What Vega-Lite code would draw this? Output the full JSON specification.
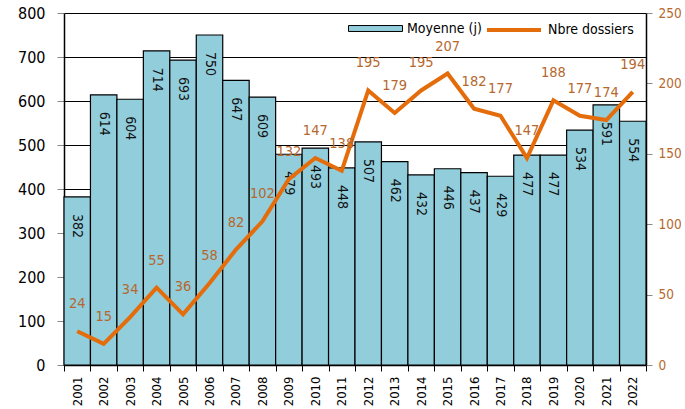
{
  "$schema": "https://vega.github.io/schema/vega-lite/v6.json",
  "width": 582,
  "height": 352,
  "autosize": {"type": "none"},
  "padding": {"left": 64, "top": 13, "right": 39, "bottom": 44},
  "background": "white",
  "title": {"text": "Durée moyenne des dossiers (jours)", "fontSize": 18, "fontWeight": "bold", "font": "DejaVu Sans Condensed, Roboto, sans-serif", "offset": 4, "dx": -50, "color": "#000"},
  "config": {
    "view": {"stroke": null},
    "font": "DejaVu Sans Condensed, Roboto, sans-serif",
    "axis": {"labelFont": "DejaVu Sans Condensed, Roboto, sans-serif", "titleFont": "DejaVu Sans Condensed, Roboto, sans-serif"},
    "legend": {"labelFont": "DejaVu Sans Condensed, Roboto, sans-serif"}
  },
  "data": {
    "values": [
      {"year": "2001", "moyenne": 382, "nbre": 24},
      {"year": "2002", "moyenne": 614, "nbre": 15},
      {"year": "2003", "moyenne": 604, "nbre": 34},
      {"year": "2004", "moyenne": 714, "nbre": 55},
      {"year": "2005", "moyenne": 693, "nbre": 36},
      {"year": "2006", "moyenne": 750, "nbre": 58},
      {"year": "2007", "moyenne": 647, "nbre": 82},
      {"year": "2008", "moyenne": 609, "nbre": 102},
      {"year": "2009", "moyenne": 479, "nbre": 132},
      {"year": "2010", "moyenne": 493, "nbre": 147},
      {"year": "2011", "moyenne": 448, "nbre": 138},
      {"year": "2012", "moyenne": 507, "nbre": 195},
      {"year": "2013", "moyenne": 462, "nbre": 179},
      {"year": "2014", "moyenne": 432, "nbre": 195},
      {"year": "2015", "moyenne": 446, "nbre": 207},
      {"year": "2016", "moyenne": 437, "nbre": 182},
      {"year": "2017", "moyenne": 429, "nbre": 177},
      {"year": "2018", "moyenne": 477, "nbre": 147},
      {"year": "2019", "moyenne": 477, "nbre": 188},
      {"year": "2020", "moyenne": 534, "nbre": 177},
      {"year": "2021", "moyenne": 591, "nbre": 174},
      {"year": "2022", "moyenne": 554, "nbre": 194}
    ]
  },
  "encoding": {
    "x": {
      "field": "year", "type": "ordinal",
      "scale": {"paddingInner": 0, "paddingOuter": 0},
      "axis": {"title": null, "labelAngle": 270, "labelFontSize": 13, "labelColor": "#000", "labelPadding": 5, "tickBand": "extent", "tickColor": "#000", "tickSize": 6, "domainColor": "#000", "domainWidth": 1.5, "grid": false}
    }
  },
  "layer": [
    {
      "encoding": {
        "y": {
          "field": "moyenne", "type": "quantitative",
          "scale": {"domain": [0, 800], "nice": false},
          "axis": {"title": null, "values": [0, 100, 200, 300, 400, 500, 600, 700, 800], "labelFontSize": 16, "labelColor": "#000", "labelPadding": 12, "tickColor": "#888", "tickSize": 7, "domainColor": "#000", "domainWidth": 1.5, "grid": true, "gridColor": "#000", "gridWidth": 1, "gridOpacity": 1}
        }
      },
      "layer": [
        {
          "mark": {"type": "bar", "stroke": "#000", "strokeWidth": 1.2},
          "encoding": {
            "fill": {
              "datum": "Moyenne (j)",
              "scale": {"domain": ["Moyenne (j)"], "range": ["#92CDDC"]},
              "legend": {
                "title": null, "orient": "none", "direction": "horizontal",
                "legendX": 284, "legendY": -12, "padding": 0,
                "symbolType": "M-1,-0.11H1V0.11H-1Z",
                "symbolSize": 2916, "symbolStrokeColor": "#000", "symbolStrokeWidth": 1, "symbolOpacity": 1,
                "labelOffset": 4, "labelFontSize": 14, "labelColor": "#000"
              }
            }
          }
        },
        {
          "mark": {"type": "text", "angle": 90, "align": "left", "baseline": "middle", "dx": 17, "fontSize": 14, "color": "#111"},
          "encoding": {"text": {"field": "moyenne", "type": "quantitative"}}
        }
      ]
    },
    {
      "encoding": {
        "y": {
          "field": "nbre", "type": "quantitative",
          "scale": {"domain": [0, 250], "nice": false},
          "axis": {"title": null, "orient": "right", "values": [0, 50, 100, 150, 200, 250], "labelFontSize": 13.5, "labelColor": "#B5682E", "labelPadding": 6, "tickColor": "#888", "tickSize": 6, "domainColor": "#000", "domainWidth": 1.5, "grid": false}
        }
      },
      "layer": [
        {
          "mark": {"type": "line", "strokeWidth": 4, "strokeJoin": "miter", "clip": false},
          "encoding": {
            "stroke": {
              "datum": "Nbre dossiers",
              "scale": {"domain": ["Nbre dossiers"], "range": ["#E46C0A"]},
              "legend": {
                "title": null, "orient": "none", "direction": "horizontal",
                "legendX": 421, "legendY": -12, "padding": 0,
                "symbolType": "stroke",
                "symbolSize": 2916, "symbolStrokeWidth": 4, "symbolOpacity": 1,
                "labelOffset": 5, "labelFontSize": 14, "labelColor": "#000"
              }
            }
          }
        },
        {
          "mark": {"type": "text", "align": "center", "baseline": "middle", "dy": -27, "fontSize": 14.5, "color": "#B5682E"},
          "encoding": {"text": {"field": "nbre", "type": "quantitative"}}
        }
      ]
    }
  ],
  "resolve": {"scale": {"y": "independent"}}
}
